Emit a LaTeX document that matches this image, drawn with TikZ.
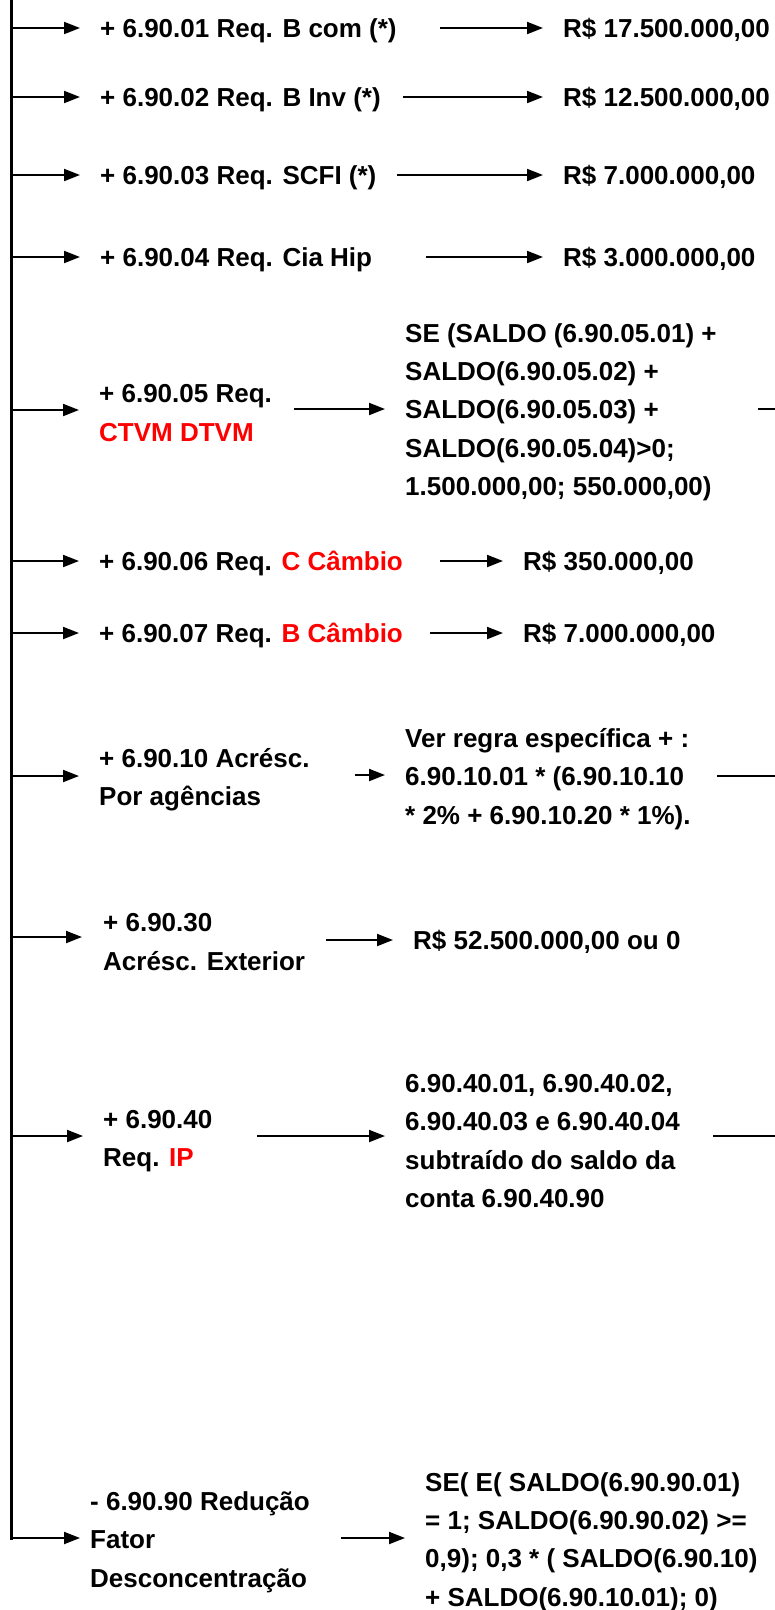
\documentclass[tikz,border=0pt]{standalone}
\usepackage{fontspec}
\setmainfont{Liberation Sans}
\usetikzlibrary{arrows.meta,calc}
\begin{document}
\begin{tikzpicture}[x=1pt,y=1pt,
  txt/.style={anchor=west, inner sep=0pt, align=left,
    font=\fontsize{26}{38.3}\selectfont\bfseries},
  one/.style={txt, text height=18.7pt, text depth=0pt},
  multi/.style={txt, yshift=-2pt},
  arr/.style={-{Triangle[length=16pt,width=12pt]}, line width=2pt},
  spine/.style={line width=3pt},
  stub/.style={line width=2.6pt}]
\useasboundingbox (0,0) rectangle (775,-1610);
\newcommand{\rd}[1]{\textcolor[RGB]{255,0,0}{#1}}

% spine coordinates
\coordinate (top) at (11,2);
\coordinate (s1) at (11,-28);
\coordinate (s2) at (11,-97);
\coordinate (s3) at (11,-175);
\coordinate (s4) at (11,-257);
\coordinate (s5) at (11,-410);
\coordinate (s6) at (11,-561);
\coordinate (s7) at (11,-633);
\coordinate (s8) at (11,-776);
\coordinate (s9) at (11,-937);
\coordinate (s10) at (11,-1136);
\coordinate (s11) at (11,-1538);

% left labels
\node[one] (l1) at (100,-28) {+ 6.90.01 Req. B com (*)};
\node[one] (l2) at (100,-97) {+ 6.90.02 Req. B Inv (*)};
\node[one] (l3) at (100,-175) {+ 6.90.03 Req. SCFI (*)};
\node[one] (l4) at (100,-257) {+ 6.90.04 Req. Cia Hip};
\node[multi] (l5) at (99,-411) {+ 6.90.05 Req.\\\rd{CTVM DTVM}};
\node[one] (l6) at (99,-561) {+ 6.90.06 Req. \rd{C Câmbio}};
\node[one] (l7) at (99,-633) {+ 6.90.07 Req. \rd{B Câmbio}};
\node[multi] (l8) at (99,-778) {+ 6.90.10 Acrésc.\\Por agências};
\node[multi] (l9) at (103,-940) {+ 6.90.30\\Acrésc. Exterior};
\node[multi] (l10) at (103,-1139) {+ 6.90.40\\Req. \rd{IP}};
\node[multi] (l11) at (90,-1540) {- 6.90.90 Redução\\Fator\\Desconcentração};

% right values
\node[one] (r1) at (563,-28) {R\$ 17.500.000,00};
\node[one] (r2) at (563,-97) {R\$ 12.500.000,00};
\node[one] (r3) at (563,-175) {R\$ 7.000.000,00};
\node[one] (r4) at (563,-257) {R\$ 3.000.000,00};
\node[multi] (r5) at (405,-410) {SE (SALDO (6.90.05.01) +\\SALDO(6.90.05.02) +\\SALDO(6.90.05.03) +\\SALDO(6.90.05.04)>0;\\1.500.000,00; 550.000,00)};
\node[one] (r6) at (523,-561) {R\$ 350.000,00};
\node[one] (r7) at (523,-633) {R\$ 7.000.000,00};
\node[multi] (r8) at (405,-777) {Ver regra específica + :\\6.90.10.01 * (6.90.10.10\\* 2\% + 6.90.10.20 * 1\%).};
\node[one] (r9) at (413,-940) {R\$ 52.500.000,00 ou 0};
\node[multi] (r10) at (405,-1139) {6.90.40.01, 6.90.40.02,\\6.90.40.03 e 6.90.40.04\\subtraído do saldo da\\conta 6.90.40.90};
\node[multi] (r11) at (425,-1540) {SE( E( SALDO(6.90.90.01)\\= 1; SALDO(6.90.90.02) >=\\0,9); 0,3 * ( SALDO(6.90.10)\\+ SALDO(6.90.10.01); 0)};

% middle arrow starts
\coordinate (m1) at (440,-28);
\coordinate (m2) at (403,-97);
\coordinate (m3) at (397,-175);
\coordinate (m4) at (426,-257);
\coordinate (m5) at (294,-409);
\coordinate (m6) at (440,-561);
\coordinate (m7) at (430,-633);
\coordinate (m8) at (355,-775);
\coordinate (m9) at (326,-940);
\coordinate (m10) at (257,-1136);
\coordinate (m11) at (341,-1538);

% stubs toward the right edge
\coordinate (t5) at (758,-409);  \coordinate (e5) at (775,-409);
\coordinate (t8) at (717,-776);  \coordinate (e8) at (775,-776);
\coordinate (t10) at (713,-1136); \coordinate (e10) at (775,-1136);

% spine
\draw[spine] (top) -- ([yshift=-1.5pt]s11);

% left arrows
\foreach \i in {1,...,8,10}{
  \draw[arr] (s\i) -- ($(s\i -| l\i.west)+(-20,0)$);
}
\draw[arr] (s9) -- ($(s9 -| l9.west)+(-21,0)$);
\draw[arr] (s11) -- ($(s11 -| l11.west)+(-10,0)$);

% middle arrows
\foreach \i in {1,...,11}{
  \draw[arr] (m\i) -- ($(m\i -| r\i.west)+(-20,0)$);
}

\draw[stub] (t5) -- (e5);
\draw[stub] (t8) -- (e8);
\draw[stub] (t10) -- (e10);
\end{tikzpicture}
\end{document}
